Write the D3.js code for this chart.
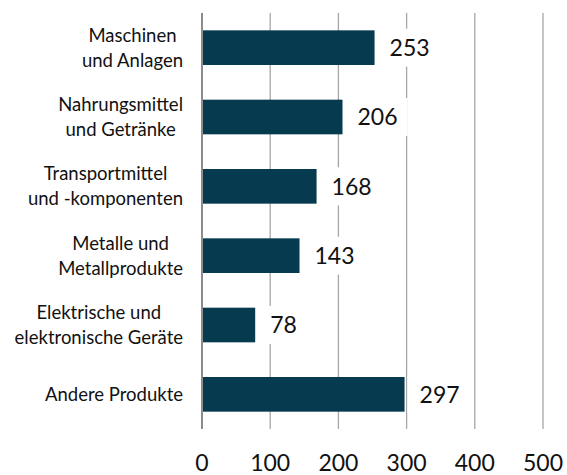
<!DOCTYPE html>
<html>
<head>
<meta charset="utf-8">
<script src="https://cdn.jsdelivr.net/npm/d3@7"></script>
<style>
  body { margin: 0; background: #fff; }
  text { font-family: Lato, "Noto Sans", sans-serif; fill: #111; }
</style>
</head>
<body>
<svg id="chart"></svg>
<script>
const categories = [
    ['Maschinen', 'und Anlagen'],
    ['Nahrungsmittel', 'und Getränke'],
    ['Transportmittel', 'und -komponenten'],
    ['Metalle und', 'Metallprodukte'],
    ['Elektrische und', 'elektronische Geräte'],
    ['Andere Produkte']
]
const values = [253, 206, 168, 143, 78, 297]
const xTicks = [0, 100, 200, 300, 400, 500]

const width = 567, height = 475
const svg = d3.select('#chart')
    .attr('width', width)
    .attr('height', height)

const margin = { top: 13, right: 24, bottom: 46, left: 202 }

const x = d3.scaleLinear()
    .domain([0, 500])
    .range([margin.left, width - margin.right])

const y = d3.scaleBand()
    .domain(d3.range(values.length))
    .range([margin.top, height - margin.bottom])
    .paddingInner(0.5)
    .paddingOuter(0.25)

// grid lines
svg.append('g')
    .selectAll('line')
    .data(xTicks.slice(1))
    .join('line')
    .attr('x1', d => x(d)).attr('x2', d => x(d))
    .attr('y1', margin.top).attr('y2', height - margin.bottom)
    .attr('stroke', '#a6a6a6')
    .attr('stroke-width', 1.3)

// bars
svg.append('g')
    .selectAll('rect')
    .data(values)
    .join('rect')
    .attr('x', x(0))
    .attr('y', (d, i) => y(i))
    .attr('width', d => x(d) - x(0))
    .attr('height', y.bandwidth())
    .attr('fill', '#063b4f')

// value labels with white boxes
const labels = svg.append('g')
    .selectAll('g')
    .data(values)
    .join('g')
    .attr('transform', (d, i) => `translate(${x(d)},${y(i) + y.bandwidth() / 2})`)

labels.append('rect').attr('class', 'bg').attr('fill', '#fff')
labels.append('text')
    .attr('x', 15)
    .attr('dy', '0.36em')
    .style('font-size', '23px')
    .text(d => d)
labels.each(function () {
    const g = d3.select(this)
    const w = g.select('text').node().getComputedTextLength()
    g.select('rect.bg')
        .attr('x', 3).attr('y', -19)
        .attr('width', w + 22).attr('height', 38)
})

// zero axis line
svg.append('line')
    .attr('x1', x(0)).attr('x2', x(0))
    .attr('y1', margin.top).attr('y2', height - margin.bottom)
    .attr('stroke', '#8c8c8c')
    .attr('stroke-width', 2)

// category labels, lines centred, block right-aligned
const catRight = 183
const lineH = 25
const cats = svg.append('g')
    .selectAll('text')
    .data(categories)
    .join('text')
    .style('font-size', '18.5px')
    .attr('text-anchor', 'middle')
    .attr('y', (d, i) => y(i) + y.bandwidth() / 2)

cats.each(function (lines) {
    const t = d3.select(this)
    const off = -(lines.length - 1) / 2 * lineH
    t.selectAll('tspan')
        .data(lines)
        .join('tspan')
        .attr('dy', (l, j) => j === 0 ? (off + 6.5) : lineH)
        .text(l => l)
    let maxW = 0
    t.selectAll('tspan').each(function () {
        maxW = Math.max(maxW, this.getComputedTextLength())
    })
    t.selectAll('tspan').attr('x', catRight - maxW / 2)
})

// x axis tick labels
svg.append('g')
    .selectAll('text')
    .data(xTicks)
    .join('text')
    .attr('x', d => x(d))
    .attr('y', 463)
    .attr('dy', '0.36em')
    .attr('text-anchor', 'middle')
    .style('font-size', '23px')
    .text(d => d)
</script>
</body>
</html>
